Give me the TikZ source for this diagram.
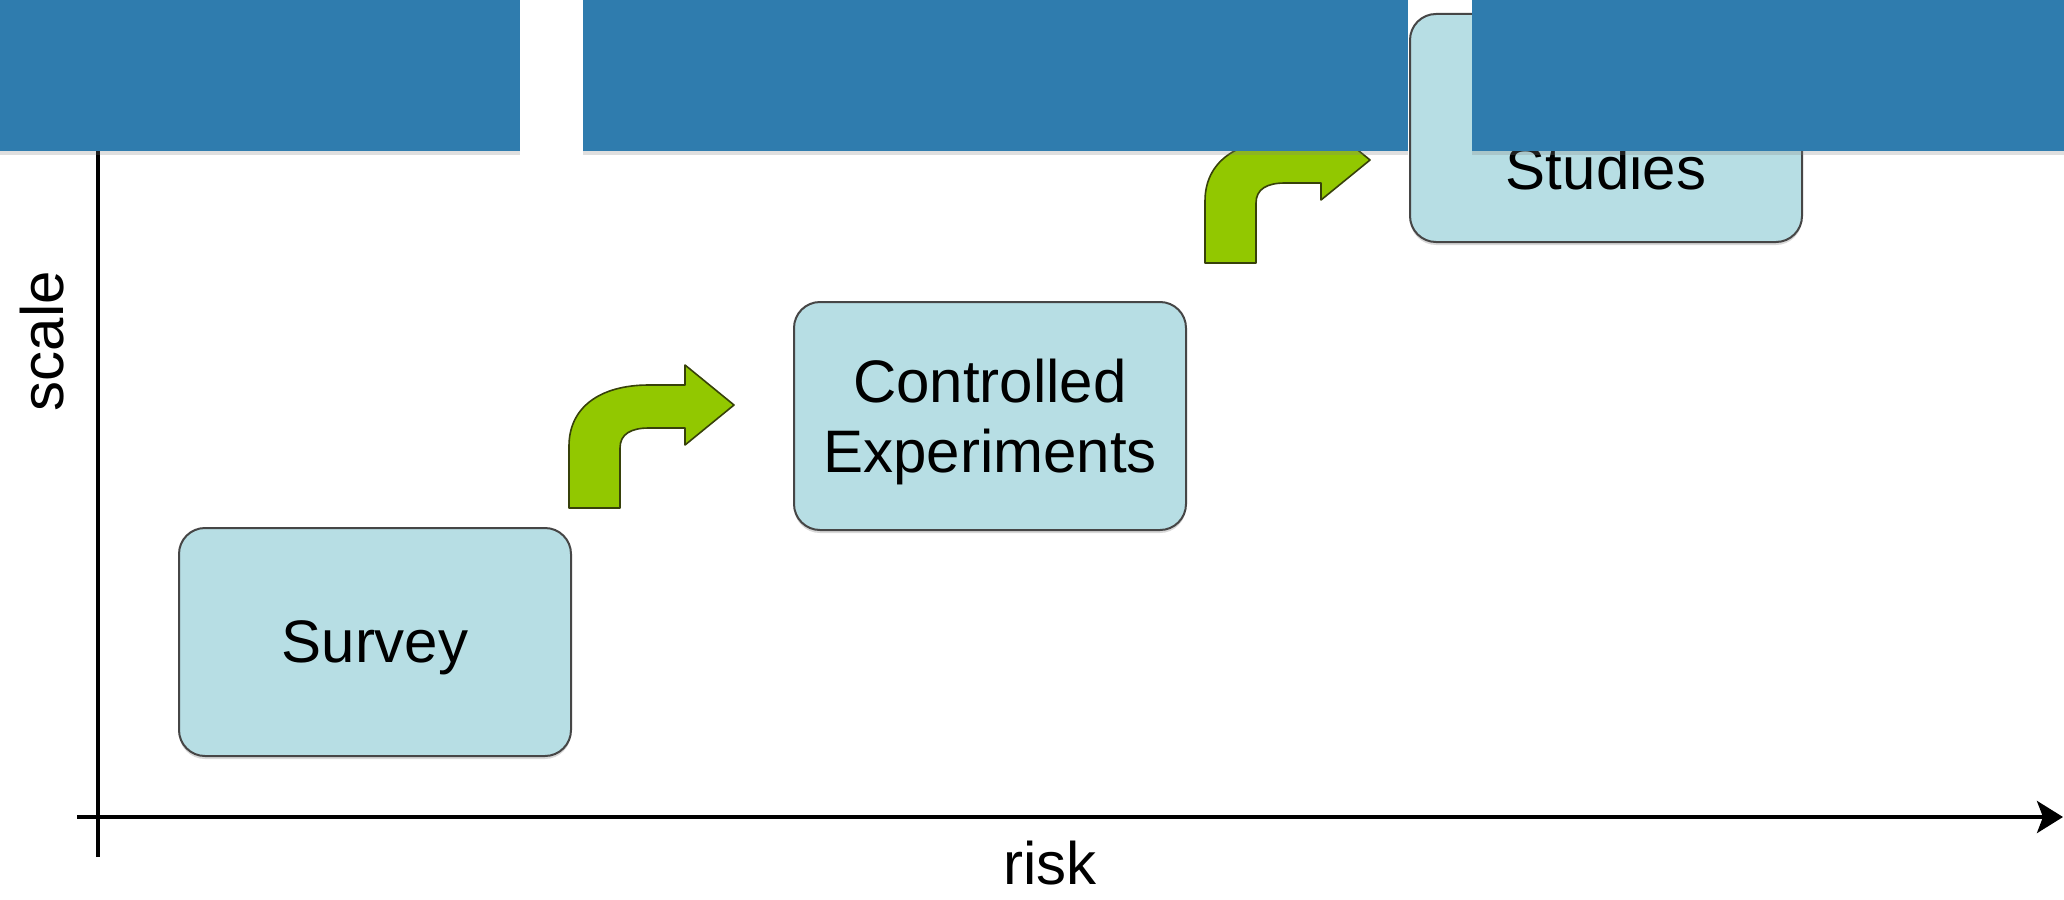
\documentclass[tikz,border=0pt]{standalone}
\usepackage{fontspec}
\setmainfont{Liberation Sans}
\usetikzlibrary{arrows.meta, shadows}
\definecolor{bannerblue}{RGB}{47,124,174}
\definecolor{stagefill}{RGB}{183,222,228}
\definecolor{stageline}{RGB}{70,70,70}
\definecolor{stepgreen}{RGB}{146,200,0}
\definecolor{stepline}{RGB}{55,65,10}

\begin{document}
\begin{tikzpicture}[x=0.5pt, y=-0.5pt, >=Stealth,
                    stage/.style={draw=stageline, line width=1pt, fill=stagefill, rounded corners=13pt,
                                  minimum width=196pt, minimum height=114pt, align=center, text depth=0pt,
                                  font=\fontsize{30}{35}\selectfont,
                                  drop shadow={shadow xshift=0pt, shadow yshift=-1.5pt, opacity=0.3}},
                    banner/.style={fill=bannerblue, drop shadow={shadow xshift=0pt, shadow yshift=-2pt, opacity=0.25}},
                    bend arrow/.style={fill=stepgreen, draw=stepline, line width=0.8pt, line join=round},
                    axis label/.style={font=\fontsize{30}{35}\selectfont, inner sep=0pt}]
                    \useasboundingbox (0,0) rectangle (2064,899);
                    \clip (0,0) rectangle (2064,899);
                    \fill[white] (0,0) rectangle (2064,899);

                    % Axes
                    \coordinate (xstart) at (77,817);  \coordinate (xend) at (2063,817);
                    \coordinate (ystart) at (98,857);  \coordinate (yend) at (98,-20);
                    \draw[line width=2pt, -{Stealth[length=13pt, width=16pt, inset=3pt]}] (xstart) -- (xend);
                    \draw[line width=2pt, ->] (ystart) -- (yend);

                    \node[axis label, rotate=90, anchor=base] (scalelabel) at (63,341) {scale};
                    \node[axis label, anchor=base] (risklabel) at (1050,884) {risk};

                    % Stages
                    \node[stage] (survey) at (375,642) {Survey};
                    \node[stage] (controlled) at (990,416) {Controlled\\Experiments};
                    \node[stage] (studies) at (1606,128) {};
                    \node[axis label, anchor=base] (studieslabel) at ([yshift=-30.5pt]studies.center) {Studies};

                    % Bent arrows between stages
                    \foreach \ax/\ay in {569/508, 1205/263}
                        \draw[bend arrow, shift={(\ax,\ay)}] (0,0) -- (0,-62)
                            .. controls (0,-100) and (30,-123) .. (80,-123) -- (116,-123) -- (116,-143)
                            -- (165,-103) -- (116,-63) -- (116,-80) -- (80,-80)
                            .. controls (62,-80) and (51,-74) .. (51,-60) -- (51,0) -- cycle;

                    % Banners on top
                    \fill[banner] (-20,-20) rectangle (520,151);
                    \fill[banner] (583,-20) rectangle (1408,151);
                    \fill[banner] (1472,-20) rectangle (2084,151);

\end{tikzpicture}
\end{document}
